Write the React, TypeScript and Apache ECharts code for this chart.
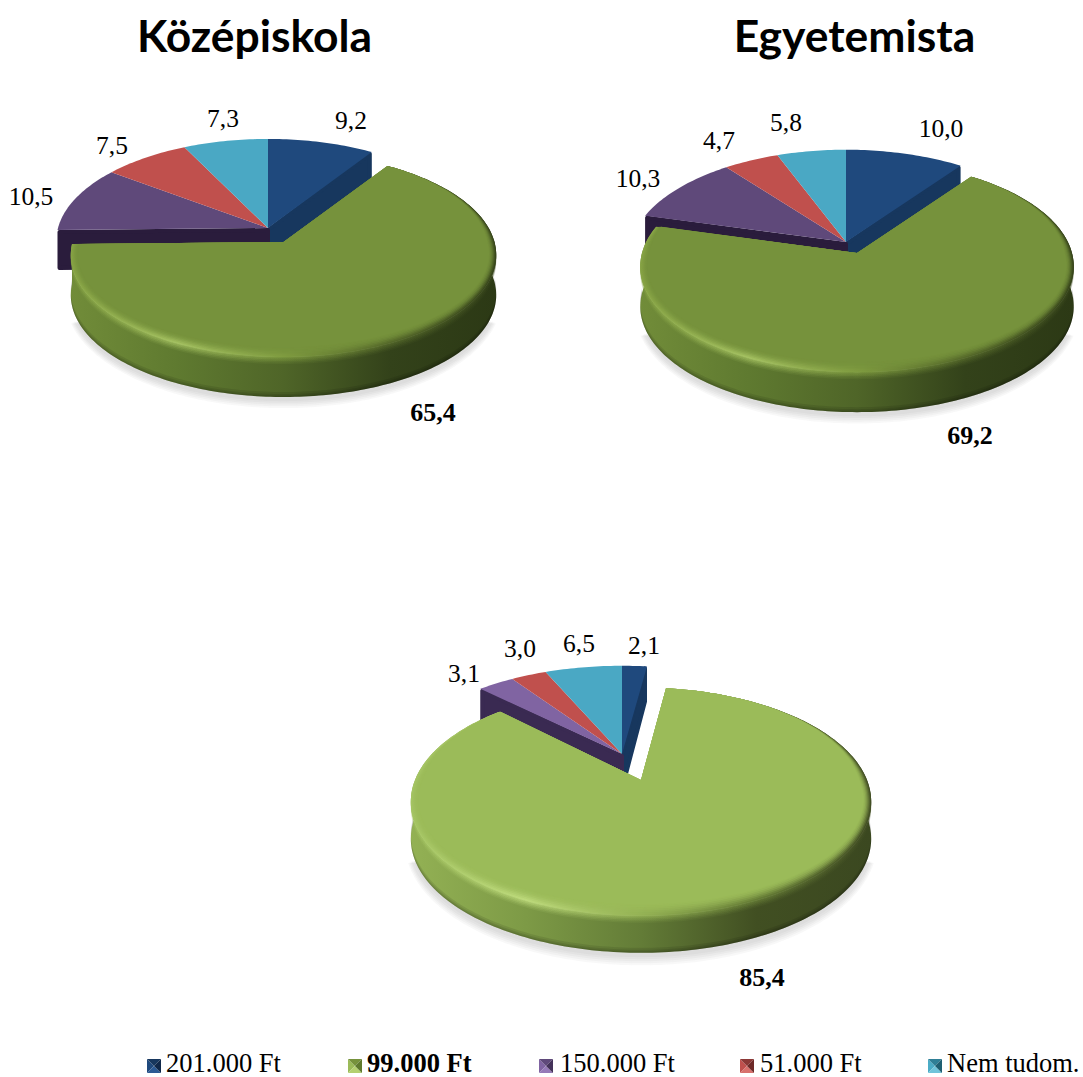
import React, { useEffect, useRef } from "react";
import * as echarts from "echarts";

// ---- data ----
const legendLabels = ["201.000 Ft", "99.000 Ft", "150.000 Ft", "51.000 Ft", "Nem tudom."];
const kozepiskolaValues = [9.2, 65.4, 10.5, 7.5, 7.3];
const egyetemistaValues = [10.0, 69.2, 10.3, 4.7, 5.8];
const harmadikValues = [2.1, 85.4, 3.1, 3.0, 6.5];
const chartTitles = ["Középiskola", "Egyetemista"];

// ---- layout and style ----
const W = 1083;
const H = 1077;
const SERIF = "'Liberation Serif', 'Times New Roman', serif";
const EXPLODED = 1; // index of the pulled-out slice

type Disk = { x: number; y: number; R: number; K: number; p: number };
type PieCfg = {
  values: number[];
  small: Disk;
  big: Disk;
  depth: number;
  labels: number[][];
  colors: string[];
  darks: string[];
  wallStops: string[];
  rimStops: string[];
};

const darkGreenPie = {
  colors: ["#1f497d", "#76923c", "#5f497a", "#c0504d", "#4aa8c4"],
  darks: ["#17375e", "#4f6228", "#2a1c3c", "#8c3836", "#2f7f96"],
  wallStops: ["#718c39", "#5f7a30", "#4f6528", "#33421a", "#2c3915"],
  rimStops: ["#86a344", "#a3c060", "#7f9c40", "#55692a", "#37451b"],
};

const pies: PieCfg[] = [
  {
    values: kozepiskolaValues,
    small: { x: 268, y: 228, R: 210, K: 100.4, p: 0.127 },
    big: { x: 283.5, y: 242, R: 211, K: 100.4, p: 0.127 },
    depth: 40,
    labels: [[351, 120], [433, 412], [31, 196], [112, 145], [223, 118]],
    ...darkGreenPie,
  },
  {
    values: egyetemistaValues,
    small: { x: 846, y: 242, R: 215, K: 104, p: 0.127 },
    big: { x: 857, y: 253, R: 215, K: 104, p: 0.127 },
    depth: 40,
    labels: [[941, 128], [970, 435], [638, 178], [719, 140], [786, 122]],
    ...darkGreenPie,
  },
  {
    values: harmadikValues,
    small: { x: 622, y: 754, R: 226, K: 105, p: 0.19 },
    big: { x: 641, y: 780, R: 226, K: 110, p: 0.19 },
    depth: 37,
    labels: [[644, 645], [762, 977], [464, 673], [520, 648], [579, 643]],
    colors: ["#1f497d", "#9bbb59", "#8064a2", "#c0504d", "#4aa8c4"],
    darks: ["#17375e", "#76923c", "#3a2a52", "#8c3836", "#2f7f96"],
    wallStops: ["#93b154", "#7d9a46", "#637c37", "#414f22", "#3b4820"],
    rimStops: ["#a4c462", "#bcd97a", "#94b254", "#667d36", "#434f24"],
  },
];

const legendMarkerX = [147, 348, 539, 740, 928];
const legendTextX = [166, 367, 560, 760, 947];
const legendShades = [
  ["#17375e", "#1f497d", "#2c5a94", "#10284a"],
  ["#76923c", "#9bbb59", "#b4d070", "#5f7a2e"],
  ["#5f497a", "#8064a2", "#967ab8", "#44325a"],
  ["#8c3836", "#c0504d", "#d8706c", "#6e2a28"],
  ["#2f7f96", "#4bacc6", "#70c4da", "#1f5f72"],
];

const project = (d: Disk, theta: number) => {
  const den = 1 + d.p * Math.cos(theta);
  return [(d.R * Math.sin(theta)) / den, (-d.K * Math.cos(theta)) / den];
};

const arcPoints = (d: Disk, a0: number, a1: number, t = 0, dy = 0) => {
  const n = Math.max(2, Math.ceil((a1 - a0) / 0.02));
  const out: number[][] = [];
  for (let i = 0; i <= n; i++) {
    const a = a0 + ((a1 - a0) * i) / n;
    const [px, py] = project(d, a);
    const near = Math.min(1, 1 - Math.cos(a));
    const sx = 1 - 0.034 * t * near;
    const sy = py > 0 ? 1 - 0.085 * t : 1;
    out.push([d.x + px * sx, d.y + py * sy + dy]);
  }
  return out;
};

const hGradient = (stops: string[]) =>
  new echarts.graphic.LinearGradient(
    0,
    0,
    1,
    0,
    stops.map((color, i) => ({ offset: i / (stops.length - 1), color })),
  );

const INNER_STEPS = [
  [0.15, 0.2],
  [0.3, 0.28],
  [0.45, 0.36],
  [0.6, 0.45],
  [0.75, 0.55],
  [0.9, 0.7],
  [1, 1],
];
const OUTER_STEPS = [
  [7, 0.12],
  [5.5, 0.18],
  [4, 0.26],
  [2.5, 0.36],
  [1, 0.5],
];
const SHADOW_STEPS = [
  [1.025, 1.07],
  [1.02, 1.055],
  [1.015, 1.04],
  [1.01, 1.025],
  [1.0, 1.01],
];

function makeRenderItem(pie: PieCfg) {
  const total = pie.values.reduce((a, b) => a + b, 0);
  return (params: any, api: any) => {
    const idx = params.dataIndex;
    const value = api.value(0);
    let before = 0;
    for (let i = 0; i < idx; i++) before += pie.values[i];
    const a0 = (before / total) * Math.PI * 2;
    const a1 = ((before + value) / total) * Math.PI * 2;
    const exploded = idx === EXPLODED;
    const d = exploded ? pie.big : pie.small;
    const color = pie.colors[idx];
    const dark = pie.darks[idx];
    const children: any[] = [];
    const poly = (points: number[][], style: any, z2: number) =>
      children.push({ type: "polygon", shape: { points }, style, z2, silent: true });

    if (exploded) {
      // soft ground shadow, only on the near part of the disk
      SHADOW_STEPS.forEach(([sx, sy]) => {
        const shadow: Disk = { ...d, R: d.R * sx, K: d.K * sy };
        poly(
          arcPoints(shadow, (Math.PI * 110) / 180, (Math.PI * 250) / 180, 0, pie.depth + 3),
          { fill: "rgba(90,90,90,0.045)" },
          1,
        );
      });
      // outer wall, darkened along its lower edge
      const top = arcPoints(d, a0, a1);
      const bottom = arcPoints(d, a0, a1, 0, pie.depth).reverse();
      poly([...top, ...bottom], { fill: hGradient(pie.wallStops) }, 6);
      const n0 = Math.max(a0, Math.PI / 2);
      const n1 = Math.min(a1, (Math.PI * 3) / 2);
      [5, 3, 1.5].forEach((h) => {
        const upper = arcPoints(d, n0, n1, 0, pie.depth - h);
        const lower = arcPoints(d, n0, n1, 0, pie.depth).reverse();
        poly([...upper, ...lower], { fill: "rgba(0,0,0,0.09)" }, 6);
      });
      // highlight spilling softly from the rim onto the wall
      OUTER_STEPS.forEach(([dy, op]) => {
        poly([[d.x, d.y + dy], ...arcPoints(d, a0, a1, 0, dy)], { fill: hGradient(pie.rimStops), opacity: op }, 7);
      });
      // bevelled rim and face
      poly([[d.x, d.y], ...arcPoints(d, a0, a1)], { fill: hGradient(pie.rimStops) }, 8);
      INNER_STEPS.forEach(([t, op]) => {
        poly([[d.x, d.y], ...arcPoints(d, a0, a1, t)], { fill: color, opacity: op }, 9);
      });
    } else {
      const isOuterEnd = idx === 0;
      const isOuterStart = idx === 2;
      if (isOuterEnd || isOuterStart) {
        const edge = project(d, isOuterEnd ? a1 : a0);
        const ex = d.x + edge[0] - Math.sign(edge[0]) * 2;
        const ey = d.y + edge[1] + 2;
        poly(
          [[d.x, d.y + 2], [ex, ey], [ex, ey + pie.depth - 4], [d.x, d.y + pie.depth - 2]],
          { fill: dark, stroke: dark, lineWidth: 4, lineJoin: "round" },
          2,
        );
      }
      poly([[d.x, d.y], ...arcPoints(d, a0, a1)], { fill: color }, 4);
    }

    const [lx, ly] = pie.labels[idx];
    children.push({
      type: "text",
      silent: true,
      z2: 20,
      style: {
        x: lx,
        y: ly,
        text: value.toFixed(1).replace(".", ","),
        fontFamily: SERIF,
        fontSize: exploded ? 26 : 25.5,
        fontWeight: exploded ? "bold" : "normal",
        fill: "#000",
        align: "center",
        verticalAlign: "middle",
      },
    });
    return { type: "group", children };
  };
}

function legendGraphics() {
  const size = 14;
  const y = 1059;
  const out: any[] = [];
  legendLabels.forEach((label, i) => {
    const x = legendMarkerX[i];
    const cx = x + size / 2;
    const cy = y + size / 2;
    const sh = legendShades[i];
    const tris = [
      [[x, y], [cx, cy], [x, y + size]],
      [[x, y], [x + size, y], [cx, cy]],
      [[x, y + size], [cx, cy], [x + size, y + size]],
      [[x + size, y], [x + size, y + size], [cx, cy]],
    ];
    const order = [sh[1], sh[0], sh[2], sh[3]];
    tris.forEach((points, k) =>
      out.push({ type: "polygon", shape: { points }, style: { fill: order[k] }, silent: true }),
    );
    out.push({
      type: "text",
      silent: true,
      style: {
        x: legendTextX[i],
        y: 1063,
        text: label,
        fontFamily: SERIF,
        fontSize: 26.5,
        fontWeight: i === EXPLODED ? "bold" : "normal",
        fill: "#000",
        align: "left",
        verticalAlign: "middle",
      },
    });
  });
  return out;
}

export default function App() {
  const ref = useRef<HTMLDivElement>(null);
  useEffect(() => {
    const chart = echarts.init(ref.current!, undefined, { renderer: "svg" });
    chart.setOption({
      animation: false,
      backgroundColor: "#fff",
      title: [
        { left: 254.5, top: 12, textAlign: "center" },
        { left: 854.5, top: 12, textAlign: "center" },
      ].map((t, i) => ({
        ...t,
        text: chartTitles[i],
        padding: 0,
        textStyle: { fontFamily: "Lato, 'Open Sans', sans-serif", fontSize: 44.4, fontWeight: "bold", color: "#000" },
      })),
      graphic: legendGraphics(),
      series: pies.map((pie) => ({
        type: "custom",
        coordinateSystem: "none",
        silent: true,
        data: pie.values.map((v) => [v]),
        renderItem: makeRenderItem(pie),
      })),
    });
    return () => chart.dispose();
  }, []);
  return <div ref={ref} style={{ position: "absolute", left: 0, top: 0, width: W, height: H }} />;
}
